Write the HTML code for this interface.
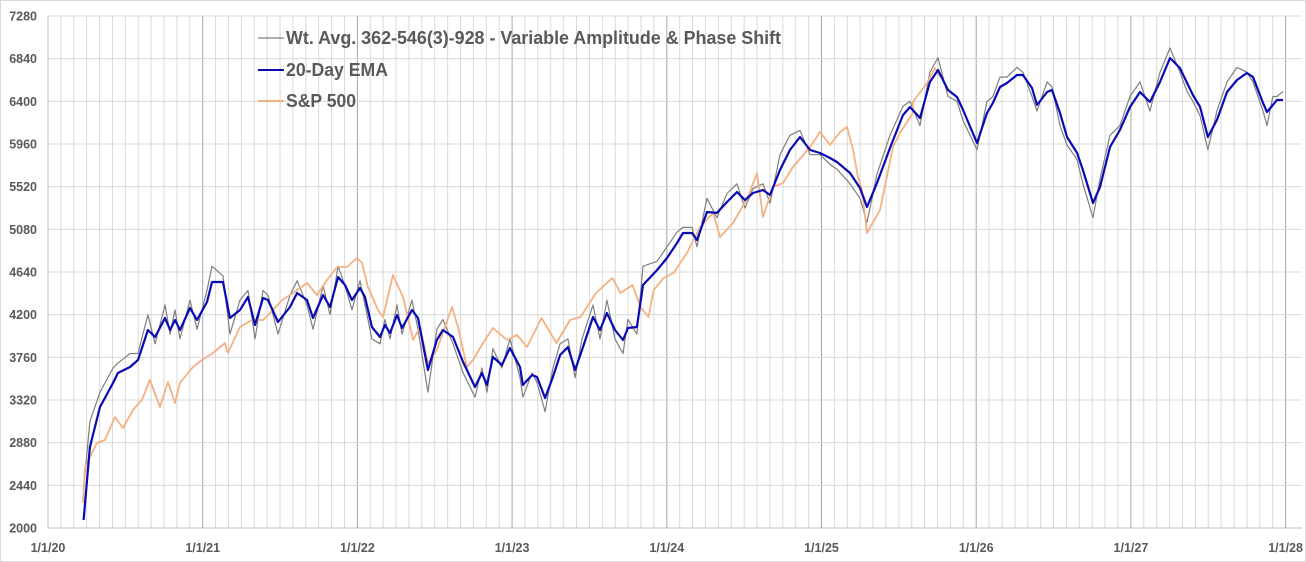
<!DOCTYPE html>
<html><head><meta charset="utf-8"><style>
html,body{margin:0;padding:0;background:#fff;}
svg{display:block;font-family:"Liberation Sans",sans-serif;}
</style></head><body>
<svg id="chart" width="1306" height="562" viewBox="0 0 1306 562" xmlns="http://www.w3.org/2000/svg">
<rect x="0.5" y="0.5" width="1305" height="561" fill="#fff" stroke="#d9d9d9"/>
<g id="grid"></g>
<g id="yaxis"></g>
<g id="xaxis"></g>
<g id="series"></g>
<g id="legend">
 <g>
  <line x1="258" y1="38" x2="284" y2="38" stroke="#7f7f7f" stroke-width="1.3"/>
  <text x="286" y="44" font-size="18" fill="#595959" font-weight="bold" textLength="495" lengthAdjust="spacingAndGlyphs">Wt. Avg. 362-546(3)-928 - Variable Amplitude &amp; Phase Shift</text>
 </g>
 <g>
  <line x1="258" y1="70" x2="284" y2="70" stroke="#0a0ab4" stroke-width="2"/>
  <text x="286" y="76" font-size="18" fill="#595959" font-weight="bold" textLength="102" lengthAdjust="spacingAndGlyphs">20-Day EMA</text>
 </g>
 <g>
  <line x1="258" y1="101" x2="284" y2="101" stroke="#f4b183" stroke-width="2"/>
  <text x="286" y="107" font-size="18" fill="#595959" font-weight="bold" textLength="70" lengthAdjust="spacingAndGlyphs">S&amp;P 500</text>
 </g>
</g>
</svg>
<script>
const yTicks = [2000,2440,2880,3320,3760,4200,4640,5080,5520,5960,6400,6840,7280];
const xTickLabels = ["1/1/20","1/1/21","1/1/22","1/1/23","1/1/24","1/1/25","1/1/26","1/1/27","1/1/28"];
const xTickYears = [2020,2021,2022,2023,2024,2025,2026,2027,2028];
const emaDates = [2020.23,2020.271,2020.336,2020.42,2020.452,2020.53,2020.582,2020.646,2020.692,2020.756,2020.789,2020.821,2020.853,2020.918,2020.963,2021.028,2021.06,2021.131,2021.176,2021.241,2021.293,2021.338,2021.39,2021.422,2021.487,2021.564,2021.61,2021.674,2021.713,2021.778,2021.823,2021.875,2021.92,2021.965,2022.017,2022.049,2022.094,2022.146,2022.178,2022.211,2022.256,2022.288,2022.353,2022.392,2022.456,2022.514,2022.553,2022.618,2022.683,2022.76,2022.805,2022.838,2022.876,2022.934,2022.986,2023.051,2023.07,2023.129,2023.161,2023.213,2023.264,2023.31,2023.361,2023.407,2023.452,2023.523,2023.568,2023.613,2023.665,2023.717,2023.749,2023.807,2023.846,2023.937,2024.001,2024.066,2024.105,2024.163,2024.195,2024.26,2024.324,2024.389,2024.454,2024.505,2024.557,2024.622,2024.667,2024.732,2024.796,2024.861,2024.926,2024.99,2025.055,2025.1,2025.184,2025.249,2025.294,2025.359,2025.443,2025.527,2025.572,2025.637,2025.701,2025.753,2025.818,2025.876,2025.915,2026.005,2026.07,2026.108,2026.154,2026.199,2026.264,2026.302,2026.361,2026.393,2026.458,2026.49,2026.542,2026.587,2026.652,2026.69,2026.755,2026.8,2026.865,2026.929,2026.994,2027.059,2027.123,2027.188,2027.253,2027.317,2027.363,2027.401,2027.447,2027.498,2027.556,2027.621,2027.686,2027.75,2027.789,2027.854,2027.88,2027.918,2027.944,2027.983];
const emaValues = [2082,2835,3248,3495,3598,3660,3732,4042,3970,4166,4042,4145,4042,4269,4145,4331,4537,4537,4166,4248,4382,4093,4372,4351,4124,4279,4423,4351,4166,4403,4279,4588,4506,4351,4475,4382,4073,3970,4093,4011,4197,4063,4248,4166,3629,3939,4042,3970,3712,3454,3598,3475,3764,3681,3856,3660,3475,3578,3557,3341,3557,3784,3867,3629,3836,4176,4042,4217,4042,3939,4063,4073,4506,4661,4784,4939,5042,5042,4970,5259,5249,5362,5465,5383,5455,5486,5434,5692,5898,6032,5898,5867,5816,5774,5661,5506,5310,5558,5919,6259,6342,6228,6599,6723,6517,6445,6311,5970,6280,6383,6548,6589,6672,6672,6538,6362,6496,6517,6280,6032,5867,5692,5352,5517,5929,6104,6342,6496,6393,6599,6847,6744,6589,6465,6342,6032,6208,6496,6620,6692,6651,6383,6290,6362,6414,6414];
const grayValues = [2400,3100,3400,3650,3700,3800,3800,4200,3900,4300,4000,4250,3950,4350,4050,4450,4700,4600,4000,4350,4450,3950,4450,4400,4000,4400,4550,4300,4050,4500,4200,4700,4500,4250,4550,4300,3950,3900,4150,3950,4300,4000,4350,4050,3400,4050,4150,3900,3600,3350,3650,3400,3850,3650,3950,3550,3350,3600,3500,3200,3650,3900,3950,3550,3950,4300,3950,4350,3950,3800,4150,4000,4700,4750,4900,5050,5100,5100,4900,5400,5200,5450,5550,5300,5500,5550,5350,5850,6050,6100,5850,5850,5750,5700,5550,5400,5150,5650,6050,6350,6400,6150,6700,6850,6450,6400,6200,5900,6400,6450,6650,6650,6750,6700,6450,6300,6600,6550,6150,5950,5800,5550,5200,5600,6050,6150,6450,6600,6300,6700,6950,6700,6500,6400,6250,5900,6300,6600,6750,6700,6600,6300,6150,6450,6450,6500];
const spDates = [2020.226,2020.239,2020.271,2020.317,2020.368,2020.433,2020.485,2020.549,2020.607,2020.659,2020.724,2020.775,2020.821,2020.853,2020.937,2020.995,2021.066,2021.144,2021.163,2021.241,2021.319,2021.39,2021.455,2021.513,2021.584,2021.674,2021.739,2021.804,2021.868,2021.933,2021.997,2022.03,2022.068,2022.133,2022.166,2022.23,2022.295,2022.36,2022.405,2022.456,2022.514,2022.611,2022.65,2022.708,2022.747,2022.812,2022.876,2022.967,2023.031,2023.096,2023.19,2023.287,2023.374,2023.443,2023.542,2023.649,2023.7,2023.778,2023.83,2023.882,2023.915,2023.979,2024.043,2024.13,2024.215,2024.299,2024.344,2024.428,2024.525,2024.583,2024.622,2024.687,2024.751,2024.816,2024.926,2024.99,2025.055,2025.12,2025.165,2025.204,2025.236,2025.262,2025.294,2025.378,2025.462,2025.507,2025.591,2025.591,2025.682,2025.734,2025.766];
const spValues = [2258,2619,2732,2877,2908,3145,3031,3217,3320,3526,3248,3506,3289,3496,3660,3732,3805,3908,3805,4073,4145,4145,4248,4351,4423,4527,4403,4557,4692,4692,4784,4733,4485,4248,4176,4609,4382,3939,4073,3702,3836,4279,4073,3660,3732,3908,4063,3939,3991,3867,4166,3908,4145,4176,4423,4578,4423,4506,4279,4176,4455,4578,4630,4836,5104,5249,5001,5145,5413,5661,5207,5517,5558,5723,5929,6084,5950,6084,6135,5898,5619,5486,5042,5280,5929,6073,6280,6393,6589,6744,6651];

const NS="http://www.w3.org/2000/svg";
const X0=48, PXY=154.7, YT=16, YB=528, XR=1302;
const xs=t=>X0+(t-2020)*PXY;
const ys=v=>YB-(v-2000)*(YB-YT)/5280;
function mk(tag,attrs,parent){const e=document.createElementNS(NS,tag);for(const k in attrs)e.setAttribute(k,attrs[k]);parent.appendChild(e);return e;}
const grid=document.getElementById('grid');
for(let m=1;m<=96;m++){
  const x=xs(2020+m/12);
  if(x>XR)break;
  const yr=m%12===0;
  const l=mk('line',{x1:x,y1:YT,x2:x,y2:YB,stroke:yr?'#a6a6a6':'#d9d9d9','stroke-width':1},grid);
  
  
}
const ya=document.getElementById('yaxis');
yTicks.forEach(v=>{
  const y=ys(v);
  const l=mk('line',{x1:X0,y1:y,x2:XR,y2:y,stroke:'#d9d9d9','stroke-width':1},grid);
  
  
  const t=mk('text',{x:37,y:y+4.5,'text-anchor':'end','font-size':12.5,'font-weight':'bold',fill:'#595959'},ya);
  t.textContent=v;
  
  
});
const ax=mk('line',{x1:X0,y1:YT,x2:X0,y2:YB,stroke:'#bfbfbf','stroke-width':1},ya);


const xa=document.getElementById('xaxis');
const bl=mk('line',{x1:X0,y1:YB,x2:XR,y2:YB,stroke:'#bfbfbf','stroke-width':1},xa);


xTickYears.forEach((yv,i)=>{
  const t=mk('text',{x:xs(yv),y:552,'text-anchor':'middle','font-size':12.5,'font-weight':'bold',fill:'#595959'},xa);
  t.textContent=xTickLabels[i];
  
  
});
function path(dates,vals){let d='';const n=Math.min(dates.length,vals.length);for(let i=0;i<n;i++)d+=(i?'L':'M')+xs(dates[i]).toFixed(1)+','+ys(vals[i]).toFixed(1);return d;}
const s=document.getElementById('series');
const pg=mk('path',{d:path(emaDates,grayValues),fill:'none',stroke:'#7f7f7f','stroke-width':1.2,'stroke-linejoin':'round'},s);


const ps=mk('path',{d:path(spDates,spValues),fill:'none',stroke:'#f4b183','stroke-width':1.8,'stroke-linejoin':'round'},s);


const pe=mk('path',{d:path(emaDates,emaValues),fill:'none',stroke:'#0a0ab4','stroke-width':2.2,'stroke-linejoin':'round'},s);


</script>
</body></html>
